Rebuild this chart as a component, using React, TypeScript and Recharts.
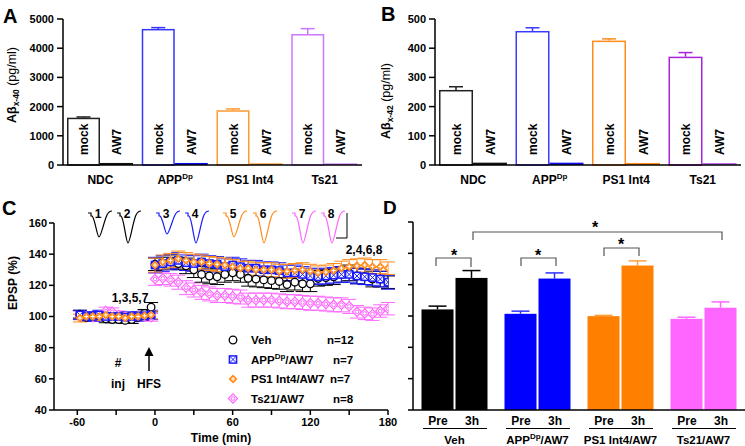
import React from 'react'
import { BarChart, Bar, XAxis, YAxis, ScatterChart, Scatter, ErrorBar } from 'recharts'

const FONT = '"Liberation Sans", Arial, sans-serif'

// ---- panels A / B : Abeta levels
const lines = ['NDC', 'APP^Dp', 'PS1 Int4', 'Ts21']
const ab40Mock = [1620, 4660, 1875, 4485]
const ab40MockErr = [25, 45, 45, 185]
const ab40Aw7 = [70, 70, 55, 55]
const ab42Mock = [257, 459, 426, 371]
const ab42MockErr = [11, 11, 6, 14]
const ab42Aw7 = [8, 8, 7, 7]
const ticks40 = [0, 1000, 2000, 3000, 4000, 5000]
const ticks42 = [0, 100, 200, 300, 400, 500]

// ---- panel C : EPSP time course
const baseTimes = [-58, -53, -48, -43, -38, -33, -28, -23, -18, -13, -8, -3]
const postTimes = [0, 6, 12, 18, 24, 30, 36, 42, 48, 54, 60, 66, 72, 78, 84, 90, 96, 102, 108, 114, 120, 126, 132, 138, 144, 150, 156, 162, 168, 174, 180]

const vehBase = [101.5, 99.5, 100, 100.5, 98.5, 98, 98, 97.5, 98, 99.5, 102, 106]
const vehBaseErr = [2.5, 2, 2.5, 2.5, 2.5, 2, 2, 2, 2.5, 2, 2.5, 3]
const vehPost = [133.5, 134, 135, 134, 132.5, 130, 127, 126, 125.5, 127, 128, 127, 124.5, 124, 123.5, 123, 122.5, 120.5, 122, 121, 121, 124.5, 125, 125.5, 127, 128, 126, 125.5, 124, 124, 122]
const vehPostErr = [4, 4, 4.5, 4, 5, 5, 5, 5, 5, 5, 5, 5, 5, 5, 5, 5, 5, 4.5, 5, 5, 5, 5, 5, 5, 5, 5, 5, 5, 5, 5, 4]

const appBase = [101, 100, 100, 101, 100, 100, 100, 99.5, 100, 100, 100.5, 101]
const appBaseErr = [3, 3, 3, 3, 3, 3, 3, 3, 3, 3, 3, 3]
const appPost = [133, 134, 135, 136, 134.5, 134, 135, 134, 133.5, 132, 133, 132, 131, 131, 130, 130, 129.5, 128, 128, 127, 126, 125.5, 126, 126.5, 127, 127, 126, 125.5, 125, 124, 122]
const appPostErr = [5, 5, 5, 5, 5, 5, 5, 5, 5, 5, 5, 5, 5, 5, 5, 5, 5, 5, 5, 5, 5, 5, 5, 5, 5, 5, 5, 5, 5, 5, 4.5]

const ps1Base = [99, 100, 100, 100, 101, 100, 100, 99, 100, 100, 100.5, 101]
const ps1BaseErr = [2.5, 2.5, 2.5, 2.5, 2.5, 2.5, 2.5, 2.5, 2.5, 2.5, 2.5, 2.5]
const ps1Post = [133, 135, 136, 137, 136, 135, 135, 134, 133.5, 133, 132, 131, 131, 130, 130, 130, 129, 129, 129.5, 130, 129, 128, 128.5, 129.5, 131, 132, 132.5, 133, 132, 132, 131]
const ps1PostErr = [4.5, 4.5, 4.5, 5, 5, 5, 4.5, 4.5, 4.5, 4.5, 4.5, 4.5, 4.5, 4.5, 4.5, 4.5, 4.5, 4.5, 4.5, 4.5, 4.5, 4.5, 4.5, 4.5, 4.5, 4.5, 4.5, 4.5, 4.5, 4.5, 4]

const ts21Base = [101, 100, 99.5, 101, 103.5, 103, 101, 100, 99, 100, 100, 99.5]
const ts21BaseErr = [2.5, 2.5, 2.5, 2.5, 2.5, 2.5, 2.5, 2.5, 2.5, 2.5, 2.5, 2.5]
const ts21Post = [124, 124.5, 123.5, 122, 118.5, 117, 115.5, 114.5, 113.5, 113.5, 113, 112.5, 110.5, 110.5, 110.5, 110.5, 110, 109.5, 109.5, 109, 108.5, 108.5, 108, 107.5, 107.5, 106.5, 103, 102, 101.5, 103.5, 105]
const ts21PostErr = [4, 4, 4, 4.5, 4.5, 4.5, 4.5, 4.5, 4.5, 4.5, 4.5, 4.5, 4.5, 4.5, 4.5, 4.5, 4.5, 4.5, 4.5, 4.5, 4.5, 4.5, 4.5, 4.5, 4.5, 4.5, 4, 4, 4, 4, 4]

const ticksEpsp = [40, 60, 80, 100, 120, 140, 160]
const ticksTime = [-60, -30, 0, 30, 60, 90, 120, 150, 180]

// ---- panel D : pre vs 3h
const groupsD = ['Veh', 'APP^Dp/AW7', 'PS1 Int4/AW7', 'Ts21/AW7']
const preMean = [104.2, 101.4, 99.9, 98.2]
const preErr = [2.1, 1.7, 0.5, 1.0]
const h3Mean = [124.3, 123.9, 132.2, 105.3]
const h3Err = [4.7, 3.6, 3.0, 3.7]

// styles
const strokeA = ['#222222', '#3535ff', '#ff9933', '#cc77ff']
const fillA = ['#111111', '#0a0aee', '#ff8a1a', '#cc77ff']
const strokeB = ['#222222', '#3b3bff', '#ff8c1a', '#aa22dd']
const fillB = ['#111111', '#1010ee', '#ff8a1a', '#c070ee']
const colD = ['#000000', '#0000ff', '#ff8000', '#ff66ff']
const errD = ['#000000', '#3030ff', '#ffa040', '#ff66ff']
const BLUE = '#1a1aff'
const ORANGE = '#ff8c1a'
const PINK = '#ff66ff'

const dataA = lines.map((name, i) => ({ name, mock: ab40Mock[i], err: ab40MockErr[i], aw7: ab40Aw7[i], stroke: strokeA[i], fill: fillA[i] }))
const dataB = lines.map((name, i) => ({ name, mock: ab42Mock[i], err: ab42MockErr[i], aw7: ab42Aw7[i], stroke: strokeB[i], fill: fillB[i] }))
const dataD = groupsD.map((name, i) => ({ name, pre: preMean[i], preErr: preErr[i], h3: h3Mean[i], h3Err: h3Err[i], color: colD[i], errColor: errD[i] }))

const series = (b: number[], be: number[], p: number[], pe: number[]) =>
  [...baseTimes.map((t, i) => ({ t, v: b[i], e: be[i] })), ...postTimes.map((t, i) => ({ t, v: p[i], e: pe[i] }))]
const vehData = series(vehBase, vehBaseErr, vehPost, vehPostErr)
const appData = series(appBase, appBaseErr, appPost, appPostErr)
const ps1Data = series(ps1Base, ps1BaseErr, ps1Post, ps1PostErr)
const ts21Data = series(ts21Base, ts21BaseErr, ts21Post, ts21PostErr)

const axisStyle = { stroke: '#000', strokeWidth: 1.5 }
const tickStyle = { fill: '#000', fontSize: 11, fontWeight: 'bold', fontFamily: FONT }

// "APP^Dp/AW7" -> APP + superscript Dp + /AW7
function supLabel(label: string, supSize: number) {
  const k = label.indexOf('^')
  if (k < 0) return label
  const m = label.slice(k + 1).match(/^(\w+)(.*)$/)
  return [
    <tspan key="a">{label.slice(0, k)}</tspan>,
    <tspan key="b" dy={-5} fontSize={supSize}>{m ? m[1] : ''}</tspan>,
    <tspan key="c" dy={5}>{m ? m[2] : ''}</tspan>,
  ]
}

const catTick = (p: any) => (
  <text x={p.x} y={p.y + 19} textAnchor="middle" fontSize={12} fontWeight="bold" fontFamily={FONT} fill="#000">
    {supLabel(p.payload.value, 8)}
  </text>
)

const vertLabel = (cx: number, yb: number, txt: string) => (
  <text transform={`translate(${cx + 4.5},${yb}) rotate(-90)`} fontSize={12} fontWeight="bold" fontFamily={FONT} fill="#000">{txt}</text>
)

const mockShape = (p: any) => {
  const { x, y, width, height, payload } = p
  const cx = x + width / 2
  const e = (payload.err * height) / payload.mock
  return (
    <g>
      <line x1={cx} x2={cx} y1={y} y2={y - e} stroke={payload.stroke} strokeWidth={1.5} />
      <line x1={cx - 7} x2={cx + 7} y1={y - e} y2={y - e} stroke={payload.stroke} strokeWidth={1.5} />
      <rect x={x + 0.75} y={y + 0.75} width={width - 1.5} height={height - 0.75} fill="#fff" stroke={payload.stroke} strokeWidth={1.5} />
      {vertLabel(cx, y + height - 10, 'mock')}
    </g>
  )
}

const aw7Shape = (p: any) => {
  const { x, y, width, height, payload } = p
  const cx = x + width / 2
  return (
    <g>
      <rect x={x} y={y} width={width} height={height} fill={payload.fill} />
      {vertLabel(cx, y + height - 10, 'AW7')}
    </g>
  )
}

const dShape = (valKey: string, errKey: string) => (p: any) => {
  const { x, y, width, height, payload } = p
  const cx = x + width / 2
  const e = (payload[errKey] * height) / (payload[valKey] - 40)
  return (
    <g>
      <line x1={cx} x2={cx} y1={y} y2={y - e} stroke={payload.errColor} strokeWidth={1.5} />
      <line x1={cx - 9} x2={cx + 9} y1={y - e} y2={y - e} stroke={payload.errColor} strokeWidth={1.5} />
      <rect x={x} y={y} width={width} height={height} fill={payload.color} />
    </g>
  )
}

const dTick = (p: any) => {
  const { x, y, payload } = p
  const t = { fontSize: 12, fontWeight: 'bold', fontFamily: FONT, fill: '#000', textAnchor: 'middle' as const }
  return (
    <g>
      <text x={x - 16.5} y={y + 15} {...t}>Pre</text>
      <text x={x + 17.5} y={y + 15} {...t}>3h</text>
      <line x1={x - 31.5} x2={x + 32.5} y1={y + 18.5} y2={y + 18.5} stroke="#000" strokeWidth={1} />
      <text x={x} y={y + 34} {...t} fontSize={11.5}>{supLabel(payload.value, 8)}</text>
    </g>
  )
}

const timeTick = (p: any) =>
  p.payload.value % 60 === 0 ? (
    <text x={p.x} y={p.y + 11} textAnchor="middle" {...tickStyle}>{p.payload.value}</text>
  ) : <g />

// symbols
const VehSym = ({ cx, cy }: any) => <circle cx={cx} cy={cy} r={3.8} fill="#fff" stroke="#000" strokeWidth={1.3} />
const AppSym = ({ cx, cy }: any) => (
  <g>
    <rect x={cx - 3.6} y={cy - 3.6} width={7.2} height={7.2} fill="#fff" stroke={BLUE} strokeWidth={1.5} />
    <path d={`M${cx - 3.2},${cy - 3.2}L${cx + 3.2},${cy + 3.2}M${cx + 3.2},${cy - 3.2}L${cx - 3.2},${cy + 3.2}`} stroke={BLUE} strokeWidth={1} />
  </g>
)
const Ps1Sym = ({ cx, cy }: any) => (
  <g>
    <path d={`M${cx},${cy - 4.5}L${cx + 4.5},${cy}L${cx},${cy + 4.5}L${cx - 4.5},${cy}Z`} fill={ORANGE} />
    <path d={`M${cx - 2},${cy}L${cx + 2},${cy}M${cx},${cy - 2}L${cx},${cy + 2}`} stroke="#fff" strokeWidth={1} />
  </g>
)
const Ts21Sym = ({ cx, cy }: any) => (
  <g>
    <path d={`M${cx},${cy - 4.6}L${cx + 4.6},${cy}L${cx},${cy + 4.6}L${cx - 4.6},${cy}Z`} fill="#fff" stroke={PINK} strokeWidth={1.2} />
    <circle cx={cx} cy={cy} r={1.8} fill="none" stroke={PINK} strokeWidth={1} />
  </g>
)

// small EPSP sample traces drawn above panel C
const traceX = [88, 117, 156, 185, 223, 253, 292, 321]
const traceDepth = [24, 30, 21, 30, 24, 30, 30, 30]
const traceCol = ['#000', '#000', BLUE, BLUE, ORANGE, ORANGE, PINK, PINK]

function tracePath(x0: number, yb: number, d: number) {
  return `M${x0},${yb} L${x0 + 3},${yb} L${x0 + 3},${yb + 3} L${x0 + 4},${yb + 3} C${x0 + 7},${yb + 5} ${x0 + 9},${yb + d} ${x0 + 11},${yb + d} C${x0 + 13},${yb + d} ${x0 + 16},${yb + 8} ${x0 + 19},${yb + 2} C${x0 + 20},${yb} ${x0 + 22},${yb - 2} ${x0 + 24},${yb - 2}`
}

const legendRows = [
  { y: 340, Sym: VehSym, name: 'Veh', n: 'n=12', nx: 327 },
  { y: 359.5, Sym: AppSym, name: 'APP^Dp/AW7', n: 'n=7', nx: 333 },
  { y: 379, Sym: Ps1Sym, name: 'PS1 Int4/AW7', n: 'n=7', nx: 330 },
  { y: 398.5, Sym: Ts21Sym, name: 'Ts21/AW7', n: 'n=8', nx: 333 },
]

function Overlay() {
  const b = { fontFamily: FONT, fontWeight: 'bold' as const, fill: '#000' }
  const bracket = '#555'
  return (
    <svg width={745} height={446} style={{ position: 'absolute', left: 0, top: 0, pointerEvents: 'none' }}>
      {/* panel letters */}
      <text x={3} y={23} fontSize={20} {...b}>A</text>
      <text x={381} y={21} fontSize={20} {...b}>B</text>
      <text x={2} y={215} fontSize={20} {...b}>C</text>
      <text x={383} y={214} fontSize={19} {...b}>D</text>

      {/* axis titles */}
      <text transform="translate(15.5,85) rotate(-90)" textAnchor="middle" fontSize={12.5} fontFamily={FONT} fill="#000">
        <tspan fontWeight="bold">Aβ</tspan><tspan fontWeight="bold" fontSize={8.5} dy={3}>x-40</tspan><tspan dy={-3}> (pg/ml)</tspan>
      </text>
      <text transform="translate(389.5,101) rotate(-90)" textAnchor="middle" fontSize={12.5} fontFamily={FONT} fill="#000">
        <tspan fontWeight="bold">Aβ</tspan><tspan fontWeight="bold" fontSize={8.5} dy={3}>x-42</tspan><tspan dy={-3}> (pg/ml)</tspan>
      </text>
      <text transform="translate(16.5,283) rotate(-90)" textAnchor="middle" fontSize={12} {...b}>EPSP (%)</text>
      <text x={221} y={442} textAnchor="middle" fontSize={12} {...b}>Time (min)</text>

      {/* sample traces */}
      {traceX.map((x0, i) => (
        <g key={i}>
          <path d={tracePath(x0, 213, traceDepth[i])} fill="none" stroke={traceCol[i]} strokeWidth={1.2} />
          <text x={x0 + 10} y={218} textAnchor="middle" fontSize={12} {...b}>{i + 1}</text>
        </g>
      ))}
      <path d="M347,213 L347,238 L336,238" fill="none" stroke="#000" strokeWidth={1} />
      <text x={364} y={254} textAnchor="middle" fontSize={12} {...b}>2,4,6,8</text>
      <text x={130} y={302} textAnchor="middle" fontSize={12} {...b}>1,3,5,7</text>

      {/* injection / HFS marks */}
      <text x={118} y={367} textAnchor="middle" fontSize={12} {...b}>#</text>
      <text x={118} y={388} textAnchor="middle" fontSize={12} {...b}>inj</text>
      <line x1={149} x2={149} y1={371} y2={354} stroke="#000" strokeWidth={1.5} />
      <path d="M144.5,356 L149,347 L153.5,356 Z" fill="#000" />
      <text x={149} y={388} textAnchor="middle" fontSize={12} {...b}>HFS</text>

      {/* legend */}
      {legendRows.map((r) => (
        <g key={r.n + r.y}>
          <r.Sym cx={233} cy={r.y} />
          <text x={251} y={r.y + 4} fontSize={11.5} {...b}>{supLabel(r.name, 8)}</text>
          <text x={r.nx} y={r.y + 4} fontSize={11.5} {...b}>{r.n}</text>
        </g>
      ))}

      {/* significance brackets, panel D */}
      <path d="M436,266 L436,258 L471,258 L471,267" fill="none" stroke={bracket} strokeWidth={1.2} />
      <text x={454} y={261} textAnchor="middle" fontSize={16} {...b}>*</text>
      <path d="M521,266 L521,258 L556,258 L556,266" fill="none" stroke={bracket} strokeWidth={1.2} />
      <text x={538} y={261} textAnchor="middle" fontSize={16} {...b}>*</text>
      <path d="M604,256 L604,248 L639,248 L639,256" fill="none" stroke={bracket} strokeWidth={1.2} />
      <text x={621} y={250} textAnchor="middle" fontSize={16} {...b}>*</text>
      <path d="M473,240 L473,232 L722,232 L722,240" fill="none" stroke={bracket} strokeWidth={1.2} />
      <text x={595} y={233} textAnchor="middle" fontSize={16} {...b}>*</text>
    </svg>
  )
}

export default function App() {
  return (
    <div style={{ position: 'absolute', left: 0, top: 0, width: 745, height: 446, background: '#fff', fontFamily: FONT }}>
      <div style={{ position: 'absolute', left: 0, top: 0 }}>
        <BarChart width={370} height={200} data={dataA} margin={{ top: 19, right: 8, left: 0, bottom: 5 }} barGap={0} barCategoryGap={4}>
          <XAxis dataKey="name" height={30} axisLine={axisStyle} tickLine={false} tickSize={0} tickMargin={0} tick={catTick} interval={0} />
          <YAxis width={63} domain={[0, 5000]} ticks={ticks40} interval={0} axisLine={axisStyle} tickLine={axisStyle} tickSize={6} tickMargin={3} tick={tickStyle} />
          <Bar dataKey="mock" shape={mockShape} isAnimationActive={false} />
          <Bar dataKey="aw7" shape={aw7Shape} isAnimationActive={false} />
        </BarChart>
      </div>
      <div style={{ position: 'absolute', left: 370, top: 0 }}>
        <BarChart width={375} height={200} data={dataB} margin={{ top: 19, right: 4, left: 0, bottom: 5 }} barGap={0} barCategoryGap={4}>
          <XAxis dataKey="name" height={30} axisLine={axisStyle} tickLine={false} tickSize={0} tickMargin={0} tick={catTick} interval={0} />
          <YAxis width={65} domain={[0, 500]} ticks={ticks42} interval={0} axisLine={axisStyle} tickLine={axisStyle} tickSize={6} tickMargin={3} tick={tickStyle} />
          <Bar dataKey="mock" shape={mockShape} isAnimationActive={false} />
          <Bar dataKey="aw7" shape={aw7Shape} isAnimationActive={false} />
        </BarChart>
      </div>
      <div style={{ position: 'absolute', left: 0, top: 200 }}>
        <ScatterChart width={400} height={246} margin={{ top: 23, right: 12, left: 0, bottom: 6 }}>
          <XAxis type="number" dataKey="t" height={30} domain={[-78, 180]} ticks={ticksTime} interval={0} allowDataOverflow axisLine={axisStyle} tickLine={axisStyle} tickSize={5} tickMargin={0} tick={timeTick} />
          <YAxis type="number" dataKey="v" domain={[40, 160]} ticks={ticksEpsp} interval={0} width={54} axisLine={axisStyle} tickLine={axisStyle} tickSize={5} tickMargin={2} tick={tickStyle} />
          <Scatter data={ts21Data} shape={(p: any) => <Ts21Sym cx={p.cx} cy={p.cy} />} isAnimationActive={false}>
            <ErrorBar dataKey="e" direction="y" width={7} stroke={PINK} strokeWidth={1} />
          </Scatter>
          <Scatter data={vehData} shape={(p: any) => <VehSym cx={p.cx} cy={p.cy} />} isAnimationActive={false}>
            <ErrorBar dataKey="e" direction="y" width={7} stroke="#000" strokeWidth={1} />
          </Scatter>
          <Scatter data={appData} shape={(p: any) => <AppSym cx={p.cx} cy={p.cy} />} isAnimationActive={false}>
            <ErrorBar dataKey="e" direction="y" width={7} stroke={BLUE} strokeWidth={1} />
          </Scatter>
          <Scatter data={ps1Data} shape={(p: any) => <Ps1Sym cx={p.cx} cy={p.cy} />} isAnimationActive={false}>
            <ErrorBar dataKey="e" direction="y" width={7} stroke={ORANGE} strokeWidth={1} />
          </Scatter>
        </ScatterChart>
      </div>
      <div style={{ position: 'absolute', left: 400, top: 200 }}>
        <BarChart width={345} height={246} data={dataD} margin={{ top: 22, right: 0, left: 0, bottom: 6 }} barGap={2} barCategoryGap={8.5}>
          <XAxis dataKey="name" height={30} axisLine={axisStyle} tickLine={false} tickSize={0} tickMargin={0} tick={dTick} interval={0} />
          <YAxis width={13} domain={[40, 160]} ticks={ticksEpsp} interval={0} axisLine={axisStyle} tickLine={axisStyle} tickSize={5} tickFormatter={() => ''} />
          <Bar dataKey="pre" shape={dShape('pre', 'preErr')} isAnimationActive={false} />
          <Bar dataKey="h3" shape={dShape('h3', 'h3Err')} isAnimationActive={false} />
        </BarChart>
      </div>
      <Overlay />
    </div>
  )
}
